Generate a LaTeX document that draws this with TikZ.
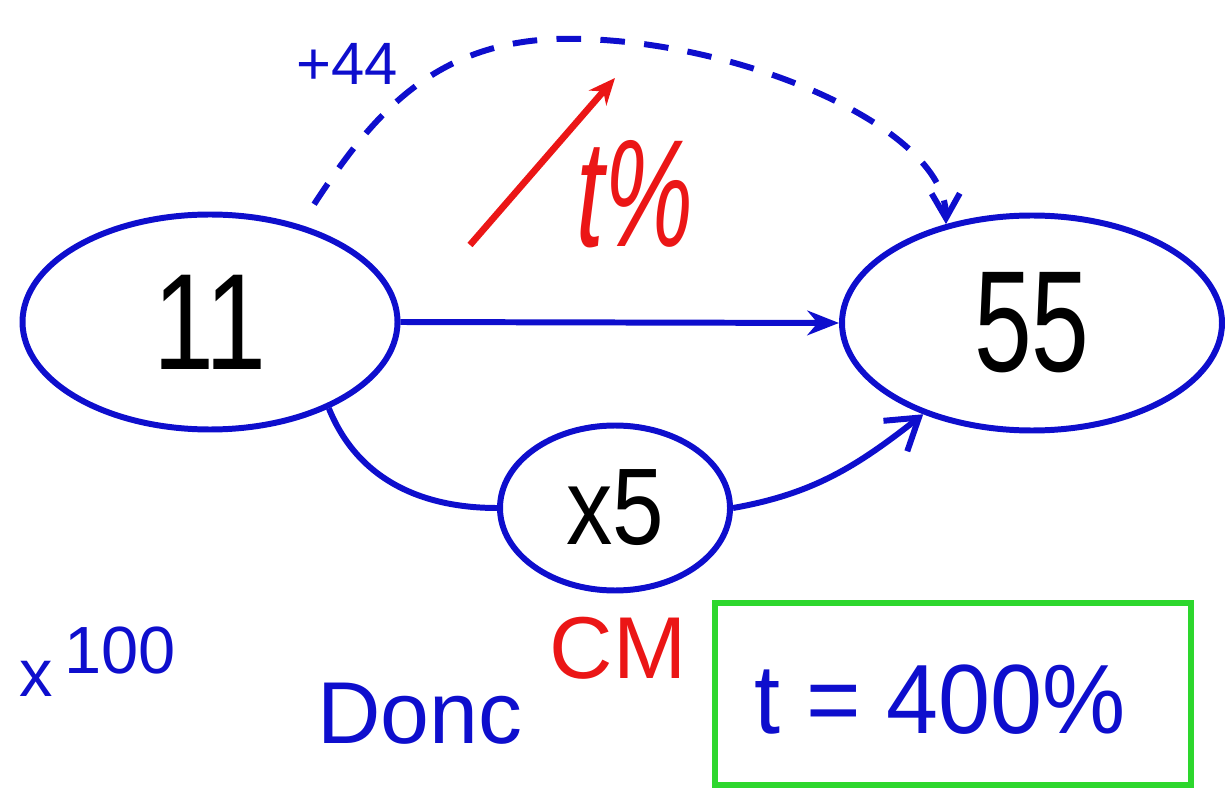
\documentclass[tikz,border=0pt]{standalone}
\usepackage{fontspec}
\setmainfont{Liberation Sans}
\usetikzlibrary{shapes.geometric, arrows.meta, positioning}

\definecolor{penblue}{RGB}{14,14,205}
\definecolor{penred}{RGB}{235,22,22}
\definecolor{pengreen}{RGB}{45,215,45}
\newcommand{\narrowtext}[2]{\scalebox{#1}[1]{#2}}

\begin{document}
\begin{tikzpicture}[
  bubble/.style={ellipse, draw=penblue, line width=3.4pt, inner sep=0pt},
  link/.style={line width=3.4pt, penblue},
  scribble/.style={inner sep=0pt, penblue},
]
  \useasboundingbox (0,0) rectangle (24.5,15.78);

  % the three values
  \node[bubble, minimum width=7.5cm, minimum height=4.3cm,
        font=\fontsize{78}{78}\selectfont] (start) at (4.2,9.34) {\narrowtext{0.8}{11}};
  \node[bubble, minimum width=7.6cm, minimum height=4.3cm,
        font=\fontsize{82}{82}\selectfont] (finish) at (20.64,9.32) {\narrowtext{0.72}{55}};
  \node[bubble, minimum width=4.6cm, minimum height=3.3cm,
        font=\fontsize{62}{62}\selectfont] (times) at (12.3,5.62) {\narrowtext{0.85}{x5}};

  % arrows between them
  \draw[link, -{Stealth[length=18pt, width=14pt]}] (start.east) -- (finish.west);
  \draw[link] (start.-36) to[out=-68, in=180] (times.west);
  \draw[link, -{Straight Barb[length=17pt, width=22pt]}] (times.east) to[out=10, in=218] (finish.220);
  \draw[link, dashed, dash pattern=on 14pt off 11pt, shorten <=14pt,
        -{Straight Barb[length=14pt, width=16pt]}]
    (start.47) .. controls (7.4,13.4) and (8.6,14.9) .. (11.1,15.0)
               .. controls (14.5,15.1) and (18.9,13.3) .. (finish.131);
  \node[scribble, font=\fontsize{34}{34}\selectfont] (plus) at (6.95,14.5) {+44};

  % rate
  \coordinate (rise0) at (9.4,10.88);
  \coordinate (rise1) at (12.3,14.22);
  \draw[line width=3.8pt, penred, -{Stealth[length=15pt, width=13pt]}] (rise0) -- (rise1);
  \node[inner sep=0pt, penred, font=\fontsize{60}{60}\selectfont\itshape] (rate) at (12.7,11.9)
    {\scalebox{0.95}[1.45]{t\%}};

  % notes
  \node[scribble, font=\fontsize{38}{38}\selectfont] (hundred) at (1.95,2.55)
    {x\,\raisebox{0.35em}{100}};
  \node[scribble, font=\fontsize{50}{50}\selectfont] (donc) at (8.4,1.5) {Donc};
  \node[inner sep=0pt, penred, font=\fontsize{50}{50}\selectfont] (cm) at (12.36,2.82) {CM};

  % result
  \node[draw=pengreen, line width=3.4pt, minimum width=9.52cm, minimum height=3.64cm,
        inner sep=0pt] (result) at (19.06,1.9) {};
  \node[scribble, font=\fontsize{56}{56}\selectfont] (answer) at (18.8,1.78)
    {\narrowtext{0.95}{t = 400\%}};
\end{tikzpicture}
\end{document}
